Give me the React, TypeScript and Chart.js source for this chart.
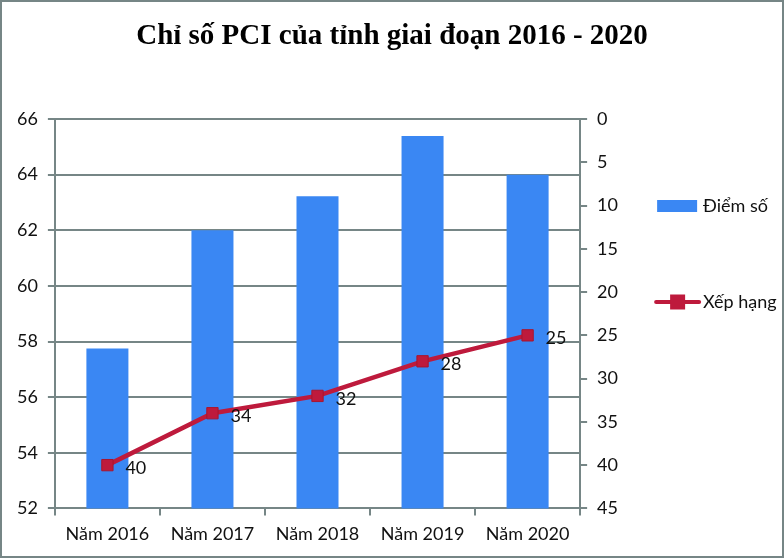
import React, { useEffect, useRef } from "react";
import { Chart, registerables } from "chart.js";

Chart.register(...registerables);

const categories = ["Năm 2016", "Năm 2017", "Năm 2018", "Năm 2019", "Năm 2020"];
const scoreValues = [57.75, 62.0, 63.22, 65.39, 64.0];
const rankValues = [40, 34, 32, 28, 25];
const scoreLabel = "Điểm số";
const rankLabel = "Xếp hạng";
const titleText = "Chỉ số PCI của tỉnh giai đoạn 2016 - 2020";

const GRID = "#768686";
const BAR = "#3a87f3";
const LINE = "#be1a3c";
const FONT = "Lato, 'Open Sans', sans-serif";

const titlePlugin = {
  id: "centerTitle",
  afterDraw(chart: any) {
    const ctx = chart.ctx;
    ctx.save();
    ctx.font = `bold 29px 'Liberation Serif', 'Times New Roman', serif`;
    ctx.fillStyle = "#000";
    ctx.textAlign = "center";
    ctx.textBaseline = "middle";
    ctx.fillText(titleText, chart.width / 2, 35);
    ctx.restore();
  },
};

const pointLabelsPlugin = {
  id: "pointLabels",
  afterDatasetsDraw(chart: any) {
    const ctx = chart.ctx;
    const meta = chart.getDatasetMeta(1);
    const data = chart.data.datasets[1].data as number[];
    ctx.save();
    ctx.font = `18px ${FONT}`;
    ctx.fillStyle = "#111";
    ctx.textAlign = "left";
    ctx.textBaseline = "middle";
    meta.data.forEach((pt: any, i: number) => {
      ctx.fillText(String(data[i]), pt.x + 18, pt.y + 3);
    });
    ctx.restore();
  },
};

const customLegendPlugin = {
  id: "customLegend",
  afterDraw(chart: any) {
    const ctx = chart.ctx;
    const ds = chart.data.datasets;
    const x0 = chart.chartArea.right + 77;
    ctx.save();
    ctx.font = `18px ${FONT}`;
    ctx.textAlign = "left";
    ctx.textBaseline = "middle";
    const y1 = chart.chartArea.top + 87;
    ctx.fillStyle = ds[0].backgroundColor;
    ctx.fillRect(x0, y1 - 6, 40, 12);
    ctx.fillStyle = "#111";
    ctx.fillText(ds[0].label, x0 + 46, y1);
    const y2 = chart.chartArea.top + 183;
    ctx.strokeStyle = ds[1].borderColor;
    ctx.lineWidth = 4;
    ctx.lineCap = "round";
    ctx.beginPath();
    ctx.moveTo(x0 - 1, y2);
    ctx.lineTo(x0 + 42, y2);
    ctx.stroke();
    ctx.fillStyle = ds[1].pointBackgroundColor;
    ctx.fillRect(x0 + 13, y2 - 7.5, 15, 15);
    ctx.fillStyle = "#111";
    ctx.fillText(ds[1].label, x0 + 46, y2);
    ctx.restore();
  },
};

export default function App() {
  const ref = useRef<HTMLCanvasElement | null>(null);

  useEffect(() => {
    document.body.style.margin = "0";
    if (!ref.current) return;
    const chart = new Chart(ref.current, {
      type: "bar",
      data: {
        labels: categories,
        datasets: [
          {
            type: "bar",
            label: scoreLabel,
            data: scoreValues,
            backgroundColor: BAR,
            barPercentage: 0.4,
            categoryPercentage: 1,
            yAxisID: "y",
            order: 2,
          },
          {
            type: "line",
            label: rankLabel,
            data: rankValues,
            borderColor: LINE,
            borderWidth: 4.5,
            pointStyle: "rect",
            pointRadius: 8,
            pointBackgroundColor: LINE,
            pointBorderColor: "#a8152f",
            pointBorderWidth: 1,
            yAxisID: "y1",
            order: 1,
          } as any,
        ],
      },
      options: {
        animation: false,
        responsive: true,
        maintainAspectRatio: false,
        layout: { padding: { left: 5, right: 154, top: 117, bottom: 3 } },
        plugins: {
          legend: { display: false },
          tooltip: { enabled: false },
          title: { display: false },
        },
        scales: {
          x: {
            grid: {
              drawOnChartArea: false,
              drawTicks: true,
              tickLength: 7,
              color: GRID,
              lineWidth: 2,
            },
            border: { color: GRID, width: 2 },
            ticks: { color: "#111", font: { family: FONT, size: 18 }, padding: 8 },
          },
          y: {
            position: "left",
            min: 52,
            max: 66,
            ticks: { stepSize: 2, color: "#111", font: { family: FONT, size: 18 }, padding: 10 },
            grid: { color: GRID, lineWidth: 2, tickLength: 7 },
            border: { color: GRID, width: 2 },
          },
          y1: {
            position: "right",
            min: 0,
            max: 45,
            reverse: true,
            ticks: { stepSize: 5, color: "#111", font: { family: FONT, size: 18 }, padding: 10 },
            grid: { drawOnChartArea: false, color: GRID, lineWidth: 2, tickLength: 7 },
            border: { color: GRID, width: 2 },
          },
        },
      },
      plugins: [pointLabelsPlugin, customLegendPlugin, titlePlugin],
    });
    return () => chart.destroy();
  }, []);

  return (
    <div
      style={{
        width: 784,
        height: 558,
        boxSizing: "border-box",
        border: `2px solid ${GRID}`,
        background: "#fff",
        position: "relative",
      }}
    >
      <canvas ref={ref} />
    </div>
  );
}
